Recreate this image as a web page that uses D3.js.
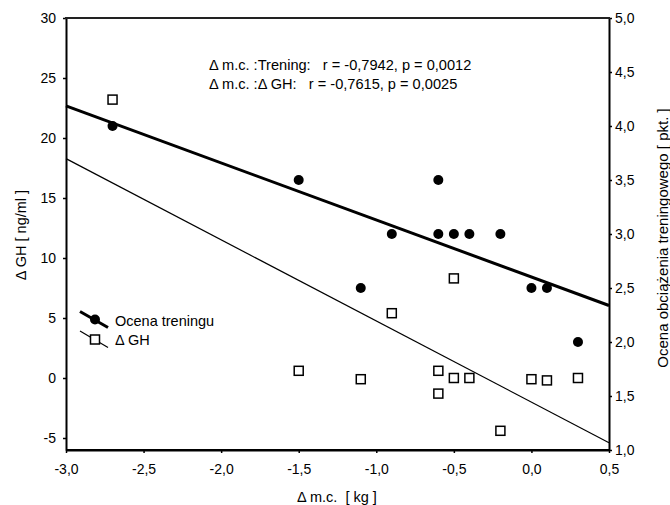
<!DOCTYPE html>
<html><head><meta charset="utf-8">
<script src="https://cdn.jsdelivr.net/npm/d3@7"></script>
<style>body{margin:0;background:#fff;} svg{display:block;} text{font-family:"Liberation Sans",Arial,sans-serif;fill:#000;}</style>
</head><body>
<svg id="c" width="670" height="505"></svg>
<script>
// Ocena treningu (right axis)
const trainX = [-2.7, -1.5, -1.1, -0.9, -0.6, -0.6, -0.5, -0.4, -0.2, 0.0, 0.1, 0.3];
const trainY = [4.0, 3.5, 2.5, 3.0, 3.5, 3.0, 3.0, 3.0, 3.0, 2.5, 2.5, 2.0];
// Δ GH (left axis)
const ghX = [-2.7, -1.5, -1.1, -0.9, -0.6, -0.6, -0.5, -0.5, -0.4, -0.2, 0.0, 0.1, 0.3];
const ghY = [23.2, 0.6, -0.1, 5.4, 0.6, -1.3, 8.3, 0.0, 0.0, -4.4, -0.1, -0.2, 0.0];
const xTicks = [-3.0, -2.5, -2.0, -1.5, -1.0, -0.5, 0.0, 0.5];
const leftTicks = [-5, 0, 5, 10, 15, 20, 25, 30];
const rightTicks = [1.0, 1.5, 2.0, 2.5, 3.0, 3.5, 4.0, 4.5, 5.0];
const annotations = ["\u0394 m.c. :Trening:   r = -0,7942, p = 0,0012", "\u0394 m.c. :\u0394 GH:   r = -0,7615, p = 0,0025"];
const legendLabels = ["Ocena treningu", "\u0394 GH"];

const svg = d3.select("#c");
const L = 66, R = 609, T = 18, B = 450;
const x = d3.scaleLinear().domain([-3.0, 0.5]).range([L, R]);
const yL = d3.scaleLinear().domain([-6, 30]).range([B, T]);
const yR = d3.scaleLinear().domain([1.0, 5.0]).range([B, T]);
const fmt = d => d3.format(".1f")(d).replace(".", ",").replace("\u2212", "-");

function fit(xs, ys) {
  const mx = d3.mean(xs), my = d3.mean(ys);
  let sxy = 0, sxx = 0;
  xs.forEach((v, i) => { sxy += (v - mx) * (ys[i] - my); sxx += (v - mx) ** 2; });
  const b = sxy / sxx;
  return v => my + b * (v - mx);
}
const fT = fit(trainX, trainY), fG = fit(ghX, ghY);

// regression lines
svg.append("line").attr("x1", x(-3)).attr("y1", yL(fG(-3))).attr("x2", x(0.5)).attr("y2", yL(fG(0.5)))
  .attr("stroke", "#000").attr("stroke-width", 1.2);
svg.append("line").attr("x1", x(-3)).attr("y1", yR(fT(-3))).attr("x2", x(0.5)).attr("y2", yR(fT(0.5)))
  .attr("stroke", "#000").attr("stroke-width", 3);

// axes
const ax = svg.append("g").attr("transform", `translate(0,${B})`)
  .call(d3.axisBottom(x).tickValues(xTicks).tickFormat(fmt).tickSize(3).tickSizeOuter(0));
const ay = svg.append("g").attr("transform", `translate(${L},0)`)
  .call(d3.axisLeft(yL).tickValues(leftTicks).tickFormat(d => String(d)).tickSize(3).tickSizeOuter(0));
const ar = svg.append("g").attr("transform", `translate(${R},0)`)
  .call(d3.axisRight(yR).tickValues(rightTicks).tickFormat(fmt).tickSize(3).tickSizeOuter(0));
[ax, ay, ar].forEach(g => {
  g.attr("font-size", null).attr("font-family", null);
  g.select(".domain").attr("stroke", "#000").attr("stroke-width", 2);
  g.selectAll(".tick line").attr("stroke", "#000").attr("stroke-width", 1.5);
  g.selectAll(".tick text").style("font-size", "14px").attr("fill", "#000");
});
ax.selectAll(".tick text").attr("y", 14.5).attr("dy", "0.71em");
ay.selectAll(".tick text").attr("x", -10);
ar.selectAll(".tick text").attr("x", 6);
// top border and bottom line
svg.append("line").attr("x1", L - 1).attr("x2", R + 1).attr("y1", T).attr("y2", T).attr("stroke", "#222").attr("stroke-width", 2);
svg.append("line").attr("x1", L).attr("x2", R).attr("y1", B).attr("y2", B).attr("stroke", "#000").attr("stroke-width", 2);

// squares
svg.append("g").selectAll("rect").data(ghX).join("rect")
  .attr("x", d => x(d) - 4.5).attr("y", (d, i) => yL(ghY[i]) - 4.5)
  .attr("width", 9).attr("height", 9).attr("fill", "#fff").attr("stroke", "#000").attr("stroke-width", 1.5);
// circles
svg.append("g").selectAll("circle").data(trainX).join("circle")
  .attr("cx", d => x(d)).attr("cy", (d, i) => yR(trainY[i])).attr("r", 5).attr("fill", "#000");

// annotations
svg.append("g").selectAll("text").data(annotations).join("text")
  .attr("x", 209).attr("y", (d, i) => 70 + i * 19).style("font-size", "14.6px").style("white-space", "pre").text(d => d);

// legend
const lg = svg.append("g");
lg.append("line").attr("x1", 80).attr("y1", 311.5).attr("x2", 108).attr("y2", 327.5).attr("stroke", "#000").attr("stroke-width", 3);
lg.append("circle").attr("cx", 95).attr("cy", 319.5).attr("r", 5).attr("fill", "#000");
lg.append("line").attr("x1", 80).attr("y1", 331).attr("x2", 108).attr("y2", 347.5).attr("stroke", "#000").attr("stroke-width", 1.2);
lg.append("rect").attr("x", 90.5).attr("y", 335).attr("width", 9).attr("height", 9).attr("fill", "#fff").attr("stroke", "#000").attr("stroke-width", 1.5);
lg.selectAll("text").data(legendLabels).join("text")
  .attr("x", 115).attr("y", (d, i) => 325.5 + i * 19.5).style("font-size", "14.5px").text(d => d);

// axis titles
svg.append("text").attr("x", 337).attr("y", 502).attr("text-anchor", "middle").style("font-size", "14.5px").style("white-space", "pre").text("\u0394 m.c.  [ kg ]");
svg.append("text").attr("transform", "translate(26,235) rotate(-90)").attr("text-anchor", "middle").style("font-size", "14.5px").text("\u0394 GH [ ng/ml ]");
svg.append("text").attr("transform", "translate(668,238) rotate(-90)").attr("text-anchor", "middle").style("font-size", "15px").text("Ocena obci\u0105\u017cenia treningowego [ pkt. ]");
</script>
</body></html>
